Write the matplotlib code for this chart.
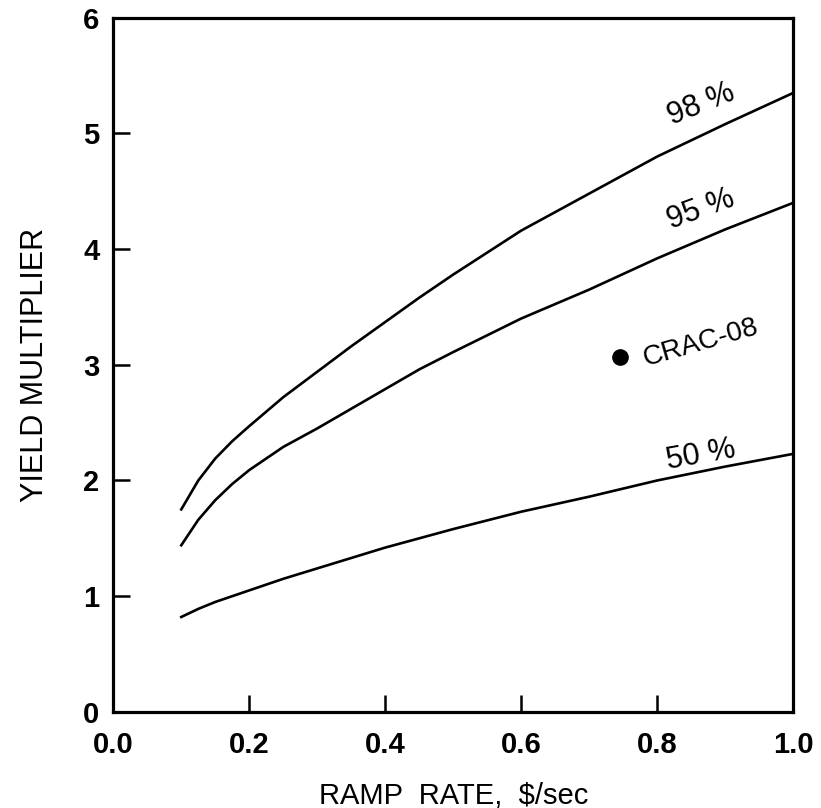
import matplotlib
matplotlib.use("Agg")
import matplotlib.pyplot as plt

# ramp rate, $/sec
ramp = [0.10, 0.125, 0.15, 0.175, 0.20, 0.25, 0.30, 0.35, 0.40, 0.45,
        0.50, 0.60, 0.70, 0.80, 0.90, 1.00]

# yield multiplier curves
y98 = [1.75, 2.00, 2.19, 2.34, 2.47, 2.72, 2.94, 3.16, 3.37, 3.58,
       3.78, 4.16, 4.48, 4.80, 5.08, 5.35]
y95 = [1.44, 1.66, 1.83, 1.97, 2.09, 2.29, 2.45, 2.62, 2.79, 2.96,
       3.11, 3.40, 3.65, 3.92, 4.17, 4.40]
y50 = [0.82, 0.89, 0.95, 1.00, 1.05, 1.15, 1.24, 1.33, 1.42, 1.50,
       1.58, 1.73, 1.86, 2.00, 2.12, 2.23]

crac_x = [0.745]
crac_y = [3.07]

xticks = [0.0, 0.2, 0.4, 0.6, 0.8, 1.0]
yticks = [0, 1, 2, 3, 4, 5, 6]

plt.rcParams['font.family'] = ['Liberation Sans', 'DejaVu Sans']

fig = plt.figure(figsize=(8.21, 8.08), dpi=100)
ax = fig.add_axes([0.138, 0.119, 0.828, 0.859])

for ys in (y98, y95, y50):
    ax.plot(ramp, ys, color='black', lw=1.9)

ax.plot(crac_x, crac_y, 'o', color='black', ms=11)

ax.text(0.865, 5.25, '98 %', fontsize=22, rotation=22, ha='center', va='center')
ax.text(0.865, 4.34, '95 %', fontsize=22, rotation=20, ha='center', va='center')
ax.text(0.865, 2.22, '50 %', fontsize=22, rotation=10, ha='center', va='center')
ax.text(0.775, 2.94, 'CRAC-08', fontsize=20, rotation=16, ha='left', va='bottom')

ax.set_xlim(0, 1.0)
ax.set_ylim(0, 6)
ax.set_xticks(xticks)
ax.set_xticklabels(['%.1f' % v for v in xticks])
ax.set_yticks(yticks)

ax.tick_params(direction='in', length=12, width=1.8, labelsize=21, pad=10)
ax.tick_params(axis='x', pad=14)
for lab in ax.get_xticklabels() + ax.get_yticklabels():
    lab.set_fontweight('bold')
for s in ax.spines.values():
    s.set_linewidth(2.3)

ax.set_xlabel('RAMP  RATE,  \\$/sec', fontsize=21, labelpad=16)
ax.set_ylabel('YIELD MULTIPLIER', fontsize=22, labelpad=24)

fig.savefig('out.png', dpi=100)
